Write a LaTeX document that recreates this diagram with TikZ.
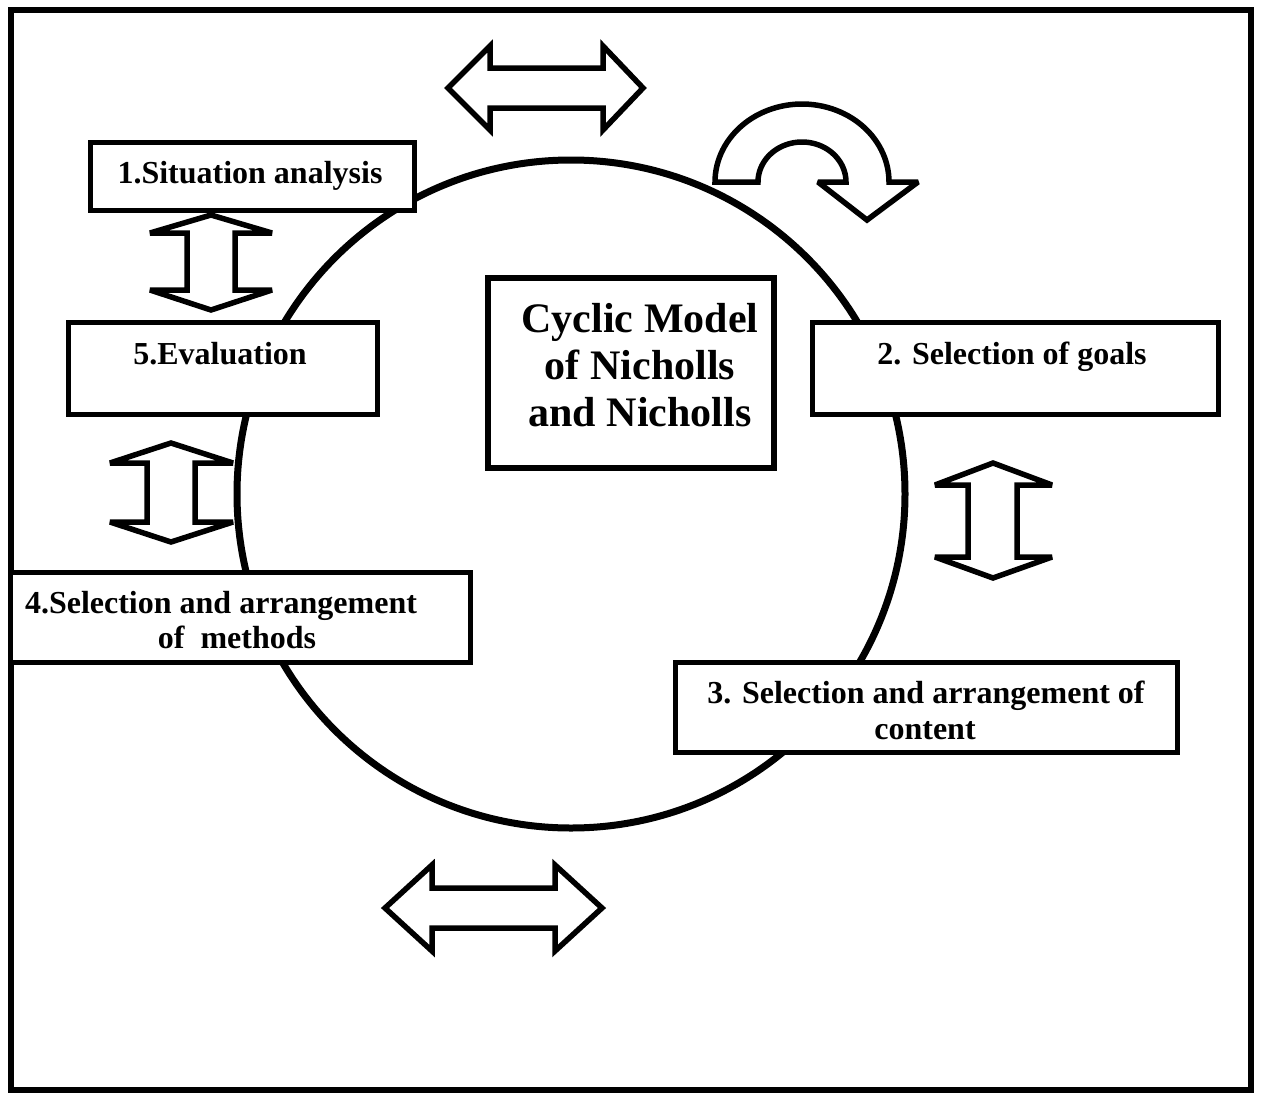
\documentclass[tikz,border=0pt]{standalone}
\usepackage{fontspec}
\setmainfont{Liberation Serif}
\begin{document}
\begin{tikzpicture}[x=1pt,y=-1pt,
  outerframe/.style={draw, line width=6pt},
  cycleline/.style={draw, line width=7pt},
  stagebox/.style={draw, fill=white, line width=4.5pt, rectangle, inner sep=0pt, anchor=north west},
  titlebox/.style={draw, fill=white, line width=6pt, rectangle, inner sep=0pt, anchor=north west},
  blockarrow/.style={draw, fill=white, line width=5.5pt, line join=miter, miter limit=3},
  stagetext/.style={font=\fontsize{32}{36}\selectfont\bfseries, anchor=base, inner sep=0pt},
  titletext/.style={font=\fontsize{42}{47}\selectfont\bfseries, align=center, inner sep=0pt}]

% page area
\useasboundingbox (0,0) rectangle (1261,1098);
\fill[white] (0,0) rectangle (1261,1098);
\draw[outerframe] (11,10) rectangle (1251,1090);

% the cycle
\node[cycleline, circle, minimum size=668pt, inner sep=0pt] (cycle) at (571,494) {};

% stage boxes (drawn over the cycle)
\node[stagebox, minimum width=324pt, minimum height=68pt] (s1) at (88,140) {};
\node[stagebox, minimum width=406pt, minimum height=92pt] (s2) at (810,320) {};
\node[stagebox, minimum width=502pt, minimum height=90pt] (s3) at (673,660) {};
\node[stagebox, minimum width=460pt, minimum height=90pt] (s4) at (8,570) {};
\node[stagebox, minimum width=309pt, minimum height=92pt] (s5) at (66,320) {};
\node[titlebox, minimum width=286pt, minimum height=190pt] (core) at (485,275) {};

% stage labels
\node[stagetext] (t1) at (250,183) {1.Situation analysis};
\node[stagetext] (t2) at (1012,364) {2. Selection of goals};
\node[stagetext] (t3a) at (926,703) {3. Selection and arrangement of};
\node[stagetext] (t3b) at (925,739) {content};
\node[stagetext] (t4a) at (221,613) {4.Selection and arrangement};
\node[stagetext] (t4b) at (237,648) {of\ \ methods};
\node[stagetext] (t5) at (220,364) {5.Evaluation};
\node[titletext] (title) at (640,365) {Cyclic Model\\of Nicholls\\and Nicholls};

% two-headed block arrows
\draw[blockarrow] (448,88) -- (490,46) -- (490,68) -- (603,68) -- (603,46) -- (643,88)
  -- (603,130) -- (603,108) -- (490,108) -- (490,130) -- cycle;
\draw[blockarrow] (385,908) -- (432,865) -- (432,888) -- (555,888) -- (555,865) -- (602,908)
  -- (555,951) -- (555,928) -- (432,928) -- (432,951) -- cycle;
\draw[blockarrow] (211,215) -- (272,233) -- (235,233) -- (235,290) -- (272,290) -- (211,310)
  -- (150,290) -- (187,290) -- (187,233) -- (150,233) -- cycle;
\draw[blockarrow] (171,443) -- (233,463) -- (195,463) -- (195,522) -- (233,522) -- (171,542)
  -- (110,522) -- (147,522) -- (147,463) -- (110,463) -- cycle;
\draw[blockarrow] (993,463) -- (1052,485) -- (1017,485) -- (1017,557) -- (1052,557) -- (993,578)
  -- (935,557) -- (968,557) -- (968,485) -- (935,485) -- cycle;

% curved turning arrow
\draw[blockarrow] (715,182)
  -- plot[domain=0:180, samples=60] ({802-87*cos(\x)},{182-78*sin(\x)})
  -- (918,182) -- (867,220) -- (818,182) -- (846,182)
  -- plot[domain=0:180, samples=60] ({802+44*cos(\x)},{182-40*sin(\x)})
  -- cycle;
\end{tikzpicture}
\end{document}
